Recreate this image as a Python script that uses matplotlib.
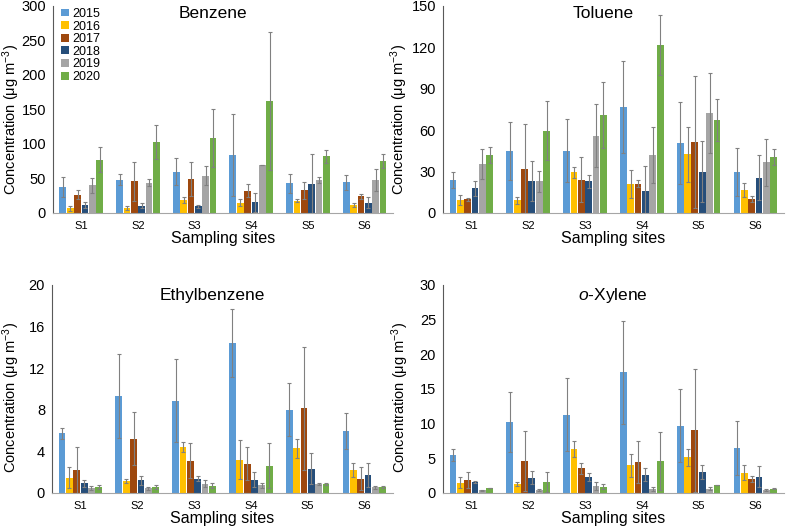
import numpy as np
import matplotlib
matplotlib.use("Agg")
import matplotlib.pyplot as plt

plt.rcParams['font.family'] = ['Liberation Sans', 'DejaVu Sans']
plt.rcParams['mathtext.fontset'] = 'custom'
plt.rcParams['mathtext.rm'] = 'Liberation Sans'
plt.rcParams['mathtext.it'] = 'Liberation Sans:italic'
plt.rcParams['mathtext.default'] = 'regular'

sites = ["S1", "S2", "S3", "S4", "S5", "S6"]
years = ["2015", "2016", "2017", "2018", "2019", "2020"]
colors = ["#5B9BD5", "#FFC000", "#9E480E", "#264E7A", "#A5A5A5", "#70AD47"]

# rows = years, columns = sites
benzene = [[37.7, 48, 60, 83.6, 43, 44.4],
           [7, 7, 18.4, 15, 17.9, 11.6],
           [26.6, 46, 49, 32.4, 32.9, 24],
           [11.6, 10.6, 9.7, 15.5, 42, 15],
           [40, 43.5, 54, 69.6, 47.3, 47.3],
           [77, 103, 109, 162, 82, 75]]
benzene_err = [[14, 8, 20, 59, 13.5, 11],
               [3.5, 3, 4, 5, 2, 2.4],
               [6, 28, 25, 9, 12.5, 4],
               [4.5, 4, 2, 13.5, 44, 7.7],
               [11, 5, 13.5, 0.5, 4.4, 16],
               [18, 25, 42, 100, 9.7, 9.7]]

toluene = [[23.7, 44.8, 45.2, 76.7, 50.6, 29.5],
           [9.4, 9.2, 29.3, 20.8, 42.6, 16.7],
           [9.9, 31.7, 24.2, 21.3, 51.3, 10.4],
           [17.9, 23, 23, 15.7, 29.8, 25.6],
           [35.6, 23, 55.9, 41.9, 72.3, 36.8],
           [42, 59.5, 70.9, 121.7, 67.3, 40.2]]
toluene_err = [[5.6, 21, 23, 33, 30, 17.4],
               [3.9, 2.4, 4.3, 10, 20, 4.8],
               [1.2, 33, 16, 2.2, 48, 2.2],
               [5.3, 14.5, 4.8, 18, 22, 16],
               [11, 7.7, 22.7, 20, 29, 17],
               [6, 21.5, 24, 21.5, 15.5, 5.8]]

ethylbenzene = [[5.74, 9.3, 8.87, 14.4, 8.0, 5.94],
                [1.48, 1.13, 4.4, 3.2, 4.3, 2.2],
                [2.2, 5.2, 3.1, 2.8, 8.13, 1.39],
                [0.94, 1.2, 1.39, 1.29, 2.35, 1.7],
                [0.45, 0.45, 0.9, 0.74, 0.84, 0.55],
                [0.6, 0.6, 0.71, 2.6, 0.84, 0.58]]
ethylbenzene_err = [[0.55, 4.05, 4.0, 3.25, 2.55, 1.7],
                    [1.0, 0.17, 0.47, 1.85, 0.9, 0.7],
                    [2.2, 2.55, 1.7, 1.6, 5.9, 1.1],
                    [0.32, 0.45, 0.22, 0.7, 1.5, 1.16],
                    [0.2, 0.15, 0.3, 0.26, 0.1, 0.13],
                    [0.17, 0.17, 0.23, 2.16, 0.1, 0.1]]

oxylene = [[5.47, 10.2, 11.3, 17.4, 9.72, 6.48],
           [1.5, 1.35, 6.3, 4.0, 5.13, 2.95],
           [1.89, 4.64, 3.53, 4.45, 9.05, 2.08],
           [1.64, 2.18, 2.37, 2.66, 3.05, 2.37],
           [0.39, 0.39, 0.97, 0.58, 0.63, 0.44],
           [0.73, 1.64, 0.92, 4.64, 1.16, 0.63]]
oxylene_err = [[0.9, 4.3, 5.3, 7.45, 5.2, 3.9],
               [0.77, 0.3, 1.16, 1.65, 1.2, 1.06],
               [1.16, 4.3, 0.82, 3.05, 8.85, 0.43],
               [0.15, 0.92, 0.58, 0.92, 0.97, 1.55],
               [0.05, 0.14, 0.58, 0.34, 0.2, 0.14],
               [0.04, 1.45, 0.39, 4.16, 0.04, 0.05]]

panels = [
    ("Benzene", benzene, benzene_err, 300, 50, [0.0673, 0.599, 0.432, 0.39]),
    ("Toluene", toluene, toluene_err, 150, 30, [0.5629, 0.599, 0.433, 0.39]),
    ("Ethylbenzene", ethylbenzene, ethylbenzene_err, 20, 4, [0.0661, 0.0716, 0.433, 0.392]),
    (r"$\it{o}$-Xylene", oxylene, oxylene_err, 30, 5, [0.5629, 0.0716, 0.433, 0.392]),
]
ylabel_x = [-0.092, -0.098, -0.088, -0.093]

fig = plt.figure(figsize=(7.87, 5.31), dpi=100)
x = np.arange(len(sites))
step = 0.13
for i, (title, vals, errs, ymax, ystep, pos) in enumerate(panels):
    ax = fig.add_axes(pos)
    for j, yr in enumerate(years):
        ax.bar(x + (j - 2.5) * step, vals[j], width=step * 0.92, color=colors[j],
               yerr=errs[j], ecolor="#808080",
               error_kw=dict(elinewidth=0.8, capsize=1.3, capthick=0.8),
               label=yr)
    ax.set_xlim(-0.5, 5.5)
    ax.set_ylim(0, ymax)
    ax.set_yticks(np.arange(0, ymax + ystep / 2, ystep))
    ax.set_xticks(x)
    ax.set_xticklabels(sites, fontsize=8)
    ax.tick_params(axis="y", labelsize=10.5, length=0, pad=5)
    ax.tick_params(axis="x", length=0, pad=6)
    for s in ["top", "right"]:
        ax.spines[s].set_visible(False)
    ax.spines["left"].set_color("#595959")
    ax.spines["left"].set_linewidth(0.8)
    ax.spines["bottom"].set_color("#A6A6A6")
    ax.spines["bottom"].set_linewidth(0.8)
    ax.set_xlabel("Sampling sites", fontsize=11.5, labelpad=0)
    ax.set_ylabel(r"Concentration (μg m$^{-3}$)", fontsize=10.5)
    ax.yaxis.set_label_coords(ylabel_x[i], 0.45 if i < 2 else 0.46)
    ty = 0.965 if i < 2 else 0.95
    tx = 0.47 if i != 3 else 0.5
    ax.text(tx, ty, title, transform=ax.transAxes, ha="center", va="center", fontsize=12.5)
    if i == 0:
        ax.legend(loc="upper left", bbox_to_anchor=(0.025, 0.99), frameon=False,
                  fontsize=9, handlelength=0.6, handleheight=0.6,
                  handletextpad=0.3, labelspacing=0.05, borderpad=0, borderaxespad=0)

fig.savefig("out.png", dpi=100)
